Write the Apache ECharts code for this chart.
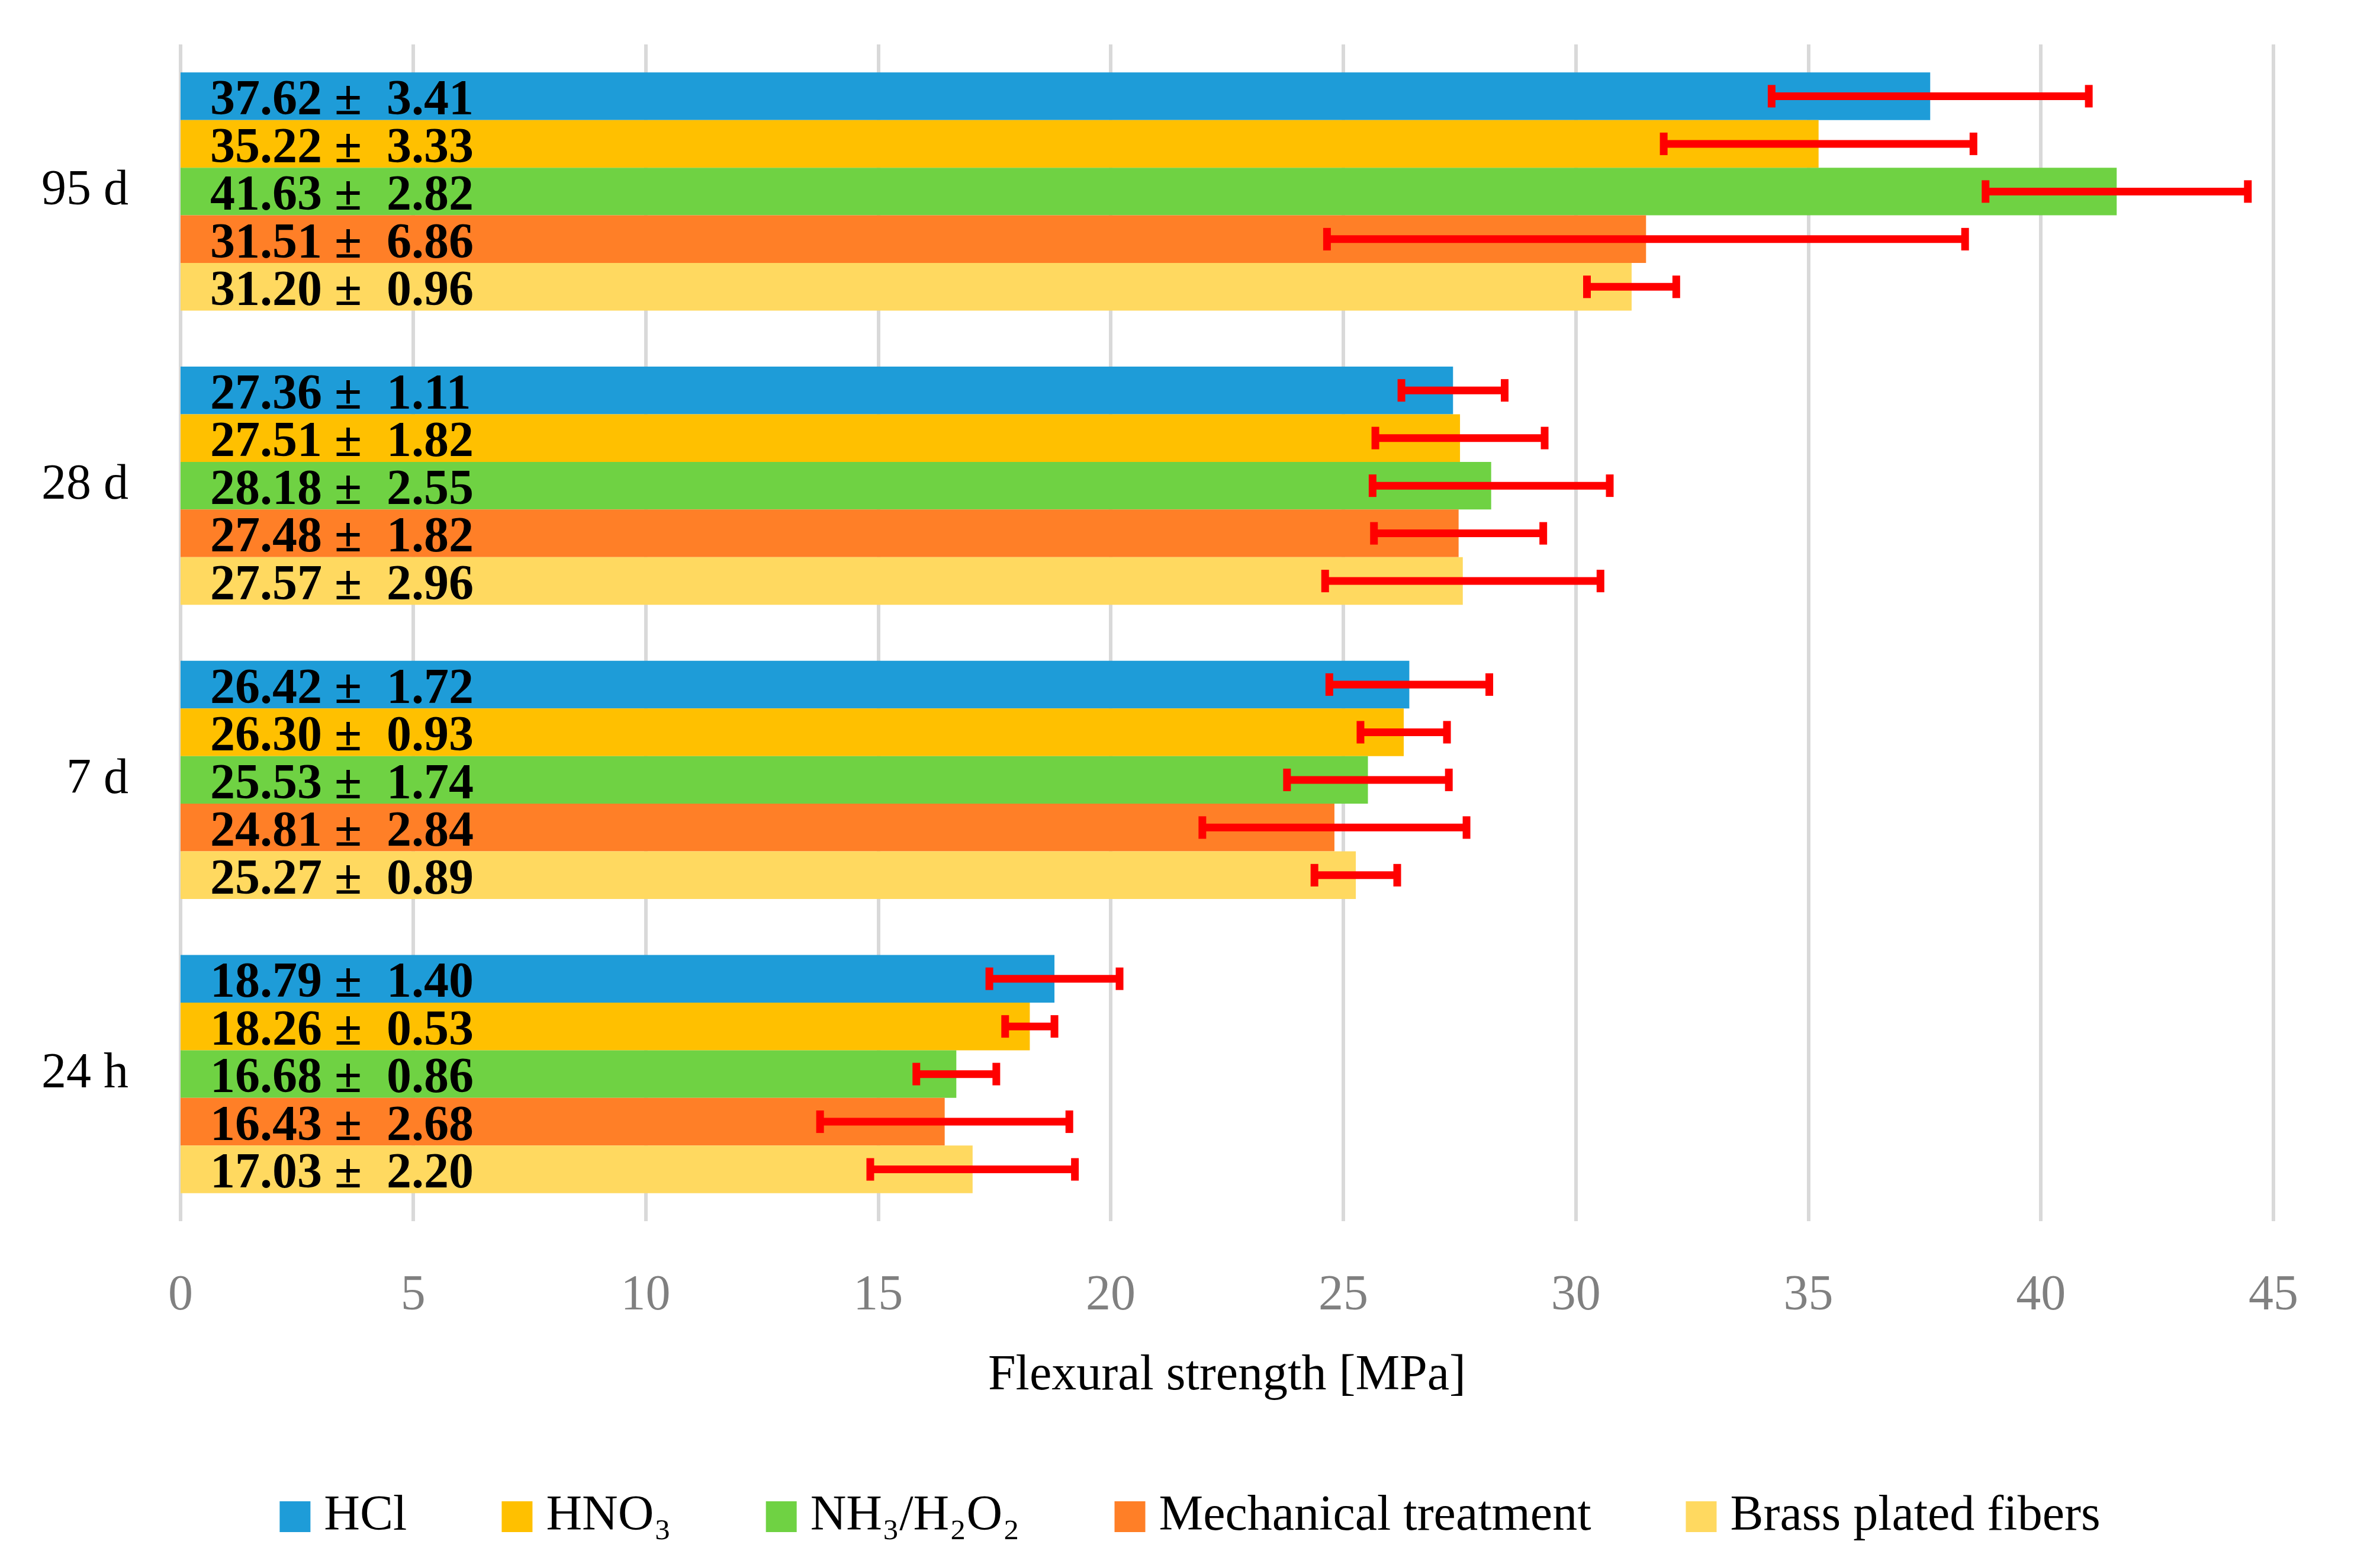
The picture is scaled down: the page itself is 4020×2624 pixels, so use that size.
<!DOCTYPE html>
<html>
<head>
<meta charset="utf-8">
<script src="https://cdn.jsdelivr.net/npm/echarts@6/dist/echarts.min.js"></script>
<style>html,body{margin:0;padding:0;background:#fff;}#c{width:4020px;height:2624px;}</style>
</head>
<body>
<div id="c"></div>
<script>
const categories = ['95 d', '28 d', '7 d', '24 h'];
const seriesNames = ['HCl', 'HNO\u2083', 'NH\u2083/H\u2082O\u2082', 'Mechanical treatment', 'Brass plated fibers'];
const colors = ['#1e9cd8', '#ffc000', '#6fd243', '#ff7f27', '#ffd960'];
const hclMean = [37.62, 27.36, 26.42, 18.79];
const hclSd = [3.41, 1.11, 1.72, 1.40];
const hno3Mean = [35.22, 27.51, 26.30, 18.26];
const hno3Sd = [3.33, 1.82, 0.93, 0.53];
const nh3Mean = [41.63, 28.18, 25.53, 16.68];
const nh3Sd = [2.82, 2.55, 1.74, 0.86];
const mechMean = [31.51, 27.48, 24.81, 16.43];
const mechSd = [6.86, 1.82, 2.84, 2.68];
const brassMean = [31.20, 27.57, 25.27, 17.03];
const brassSd = [0.96, 2.96, 0.89, 2.20];
const xTicks = [0, 5, 10, 15, 20, 25, 30, 35, 40, 45];

const means = [hclMean, hno3Mean, nh3Mean, mechMean, brassMean];
const sds = [hclSd, hno3Sd, nh3Sd, mechSd, brassSd];
const FONT = 'Liberation Serif';
const FS = 84;
const GAP = 0.19;
const N = means.length;

const barSeries = means.map((m, si) => ({
  name: seriesNames[si],
  type: 'bar',
  data: m,
  barGap: '0%',
  barCategoryGap: (GAP * 100) + '%',
  itemStyle: { color: colors[si] },
  label: {
    show: true,
    position: 'insideLeft',
    distance: 50,
    offset: [0, 9],
    fontFamily: FONT,
    fontSize: FS,
    fontWeight: 'bold',
    color: '#000',
    formatter: p => p.value.toFixed(2) + ' \u00b1  ' + sds[si][p.dataIndex].toFixed(2)
  },
  z: 2
}));

const errData = [];
means.forEach((m, si) => m.forEach((v, ci) => errData.push([ci, si, v, sds[si][ci]])));

const errSeries = {
  type: 'custom',
  name: 'err',
  data: errData,
  encode: { x: 2, y: 0 },
  z: 5,
  silent: true,
  renderItem: (params, api) => {
    const ci = api.value(0), si = api.value(1), m = api.value(2), sd = api.value(3);
    const p0 = api.coord([m - sd, ci]);
    const p1 = api.coord([m + sd, ci]);
    const band = api.size([0, 1])[1];
    const bw = band * (1 - GAP) / N;
    const y = p0[1] + (si - (N - 1) / 2) * bw;
    const capH = 38, lw = 13;
    const style = { stroke: '#ff0000', lineWidth: lw, fill: null };
    return {
      type: 'group',
      children: [
        { type: 'line', shape: { x1: p0[0], y1: y, x2: p1[0], y2: y }, style },
        { type: 'line', shape: { x1: p0[0], y1: y - capH / 2, x2: p0[0], y2: y + capH / 2 }, style },
        { type: 'line', shape: { x1: p1[0], y1: y - capH / 2, x2: p1[0], y2: y + capH / 2 }, style }
      ]
    };
  }
};

const chart = echarts.init(document.getElementById('c'));
chart.setOption({
  backgroundColor: '#fff',
  animation: false,
  grid: { left: 305, right: 180, top: 75, bottom: 562, containLabel: false },
  xAxis: {
    type: 'value',
    min: xTicks[0],
    max: xTicks[xTicks.length - 1],
    interval: 5,
    name: 'Flexural strength [MPa]',
    nameLocation: 'middle',
    nameGap: 220,
    nameTextStyle: { fontFamily: FONT, fontSize: FS, color: '#000' },
    axisLine: { show: false },
    axisTick: { show: false },
    axisLabel: { fontFamily: FONT, fontSize: FS, color: '#808080', margin: 85 },
    splitLine: { show: true, lineStyle: { color: '#d9d9d9', width: 6 } }
  },
  yAxis: {
    type: 'category',
    data: categories,
    inverse: true,
    axisLine: { show: false },
    axisTick: { show: false },
    axisLabel: { fontFamily: FONT, fontSize: FS, color: '#000', margin: 88, padding: [16, 0, 0, 0] },
    splitLine: { show: false }
  },
  legend: {
    data: seriesNames,
    bottom: 16,
    left: 'center',
    icon: 'rect',
    itemWidth: 52,
    itemHeight: 52,
    itemGap: 160,
    textStyle: { fontFamily: FONT, fontSize: FS, color: '#000', padding: [0, 0, 0, 18] }
  },
  series: [...barSeries, errSeries]
});
</script>
</body>
</html>
